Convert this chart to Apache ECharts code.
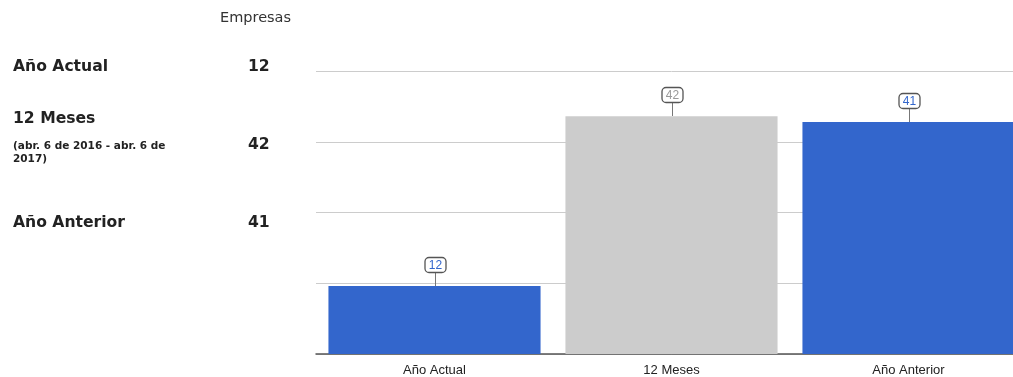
<!DOCTYPE html>
<html>
<head>
<meta charset="utf-8">
<style>
  html, body { margin: 0; padding: 0; background: #fff; overflow: hidden; }
  #chart { width: 1027px; height: 377px; }
</style>
<script src="https://cdn.jsdelivr.net/npm/echarts@6/dist/echarts.min.js"></script>
</head>
<body>
<div id="chart"></div>
<script>
// Categories and values
var categories = ['Año Actual', '12 Meses', 'Año Anterior'];
var empresas = [12, 42, 41];
var barColors = ['#3366cc', '#cccccc', '#3366cc'];
var labelColors = ['#3366cc', '#999999', '#3366cc'];

// Left-hand summary table
var sideTitles = ['Año Actual', '12 Meses', 'Año Anterior'];
var sideNote = ['', '(abr. 6 de 2016 - abr. 6 de\n2017)', ''];
var sideHeader = 'Empresas';

var chart = echarts.init(document.getElementById('chart'));

var rowY = [65, 117, 221];
var valueY = [65, 143, 221];
var sideFont = 'bold 15.6px "DejaVu Sans", Verdana, sans-serif';
var graphics = [
  { type: 'text', left: 220, top: 11, style: { text: sideHeader, font: '14.5px "DejaVu Sans", Verdana, sans-serif', fill: '#333' } }
];
for (var i = 0; i < sideTitles.length; i++) {
  graphics.push({ type: 'text', left: 13, top: rowY[i] - 6, style: { text: sideTitles[i], font: sideFont, fill: '#222' } });
  graphics.push({ type: 'text', left: 248, top: valueY[i] - 6, style: { text: String(empresas[i]), font: sideFont, fill: '#222' } });
  if (sideNote[i]) {
    graphics.push({ type: 'text', left: 13, top: 140, style: { text: sideNote[i], font: 'bold 10.5px "DejaVu Sans", Verdana, sans-serif', fill: '#222', lineHeight: 13 } });
  }
}

chart.setOption({
  animation: false,
  graphic: graphics,
  grid: { left: 316, top: 71, right: 0, bottom: 23, containLabel: false },
  xAxis: {
    type: 'category',
    data: categories,
    axisTick: { show: false },
    axisLine: { lineStyle: { color: '#555', width: 1.5 } },
    axisLabel: { color: '#222', fontFamily: 'Liberation Sans, Arial, sans-serif', fontSize: 13, margin: 10 }
  },
  yAxis: {
    type: 'value',
    min: 0, max: 50, interval: 12.5,
    axisLabel: { show: false },
    axisLine: { show: false },
    axisTick: { show: false },
    splitLine: { lineStyle: { color: '#cccccc', width: 1 } }
  },
  series: [
    {
      type: 'bar',
      data: empresas.map(function (v, i) { return { value: v, itemStyle: { color: barColors[i] } }; }),
      barCategoryGap: '10.5%'
    },
    {
      // value callouts: a small rounded box joined to the bar top by a stem
      type: 'custom',
      data: empresas.map(function (v, i) { return [i, v]; }),
      z: 10,
      renderItem: function (params, api) {
        var idx = params.dataIndex;
        var p = api.coord([api.value(0), api.value(1)]);
        var x = Math.round(p[0]) + 0.5;
        var top = Math.round(p[1]);
        var boxW = 21, boxH = 15, stem = 14;
        var boxTop = top - stem - boxH;
        return {
          type: 'group',
          children: [
            { type: 'line', shape: { x1: x, y1: top, x2: x, y2: top - stem }, style: { stroke: '#777', lineWidth: 1 } },
            { type: 'rect', shape: { x: x - boxW / 2, y: boxTop + 0.5, width: boxW, height: boxH, r: 4 }, style: { fill: '#fff', stroke: '#555', lineWidth: 1.3 } },
            { type: 'text', x: x, y: boxTop + boxH / 2 + 1, style: { text: String(api.value(1)), font: '12px "Liberation Sans", Arial, sans-serif', fill: labelColors[idx], align: 'center', verticalAlign: 'middle' } }
          ]
        };
      }
    }
  ]
});
</script>
</body>
</html>
